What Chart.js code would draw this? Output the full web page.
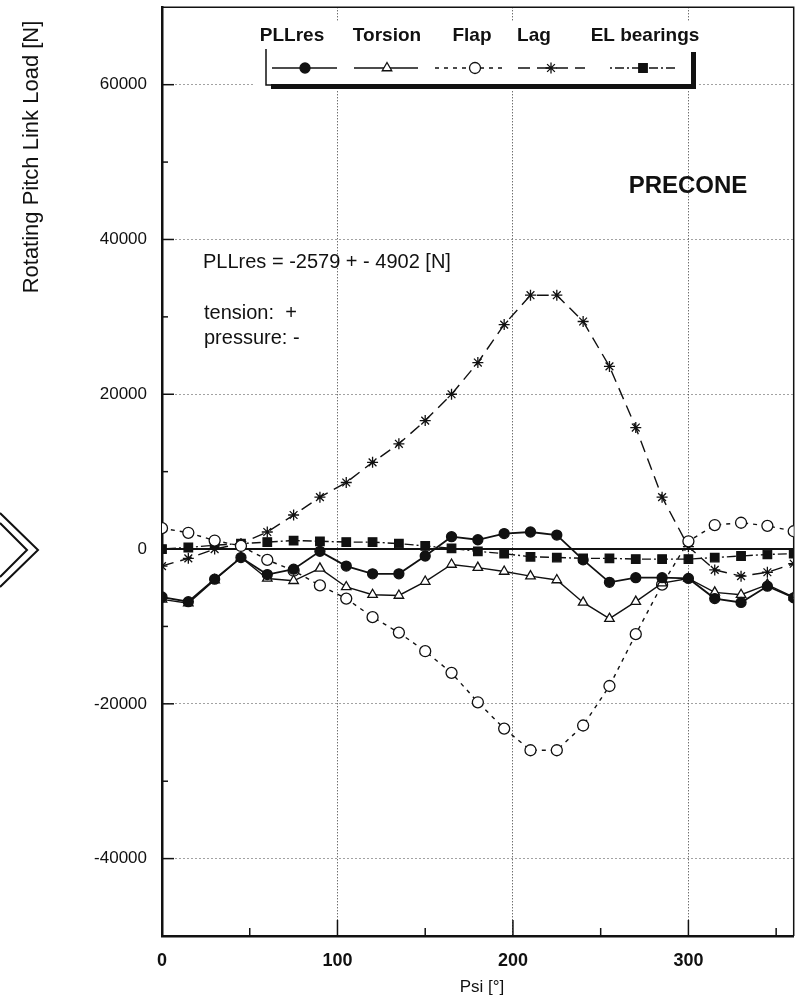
<!DOCTYPE html>
<html>
<head>
<meta charset="utf-8">
<title>Rotating Pitch Link Load</title>
<script src="https://cdn.jsdelivr.net/npm/chart.js@4.4.1/dist/chart.umd.min.js"></script>
<style>
  html, body { margin: 0; padding: 0; background: #fff; }
  #wrap { width: 801px; height: 1000px; }
</style>
</head>
<body>
<div id="wrap"><canvas id="chart" width="801" height="1000"></canvas></div>
<script>
// azimuth positions [deg]
const psi = [0, 15, 30, 45, 60, 75, 90, 105, 120, 135, 150, 165, 180, 195, 210, 225, 240, 255, 270, 285, 300, 315, 330, 345, 360];

// load components [N]
const pllRes = [-6200, -6800, -3900, -1100, -3300, -2600, -300, -2200, -3200, -3200, -900, 1600, 1200, 2000, 2200, 1800, -1400, -4300, -3700, -3700, -3800, -6400, -6900, -4800, -6300];
const torsion = [-6500, -7000, -4000, -1100, -3800, -4100, -2500, -4900, -5900, -6000, -4200, -2000, -2400, -2900, -3500, -4000, -6900, -9000, -6800, -4400, -3800, -5600, -5900, -4600, -6200];
const flap = [2700, 2100, 1100, 400, -1400, -2800, -4700, -6400, -8800, -10800, -13200, -16000, -19800, -23200, -26000, -26000, -22800, -17700, -11000, -4600, 1000, 3100, 3400, 3000, 2300];
const lag = [-2200, -1200, 0, 700, 2200, 4400, 6700, 8600, 11200, 13600, 16600, 20000, 24100, 29000, 32800, 32800, 29400, 23600, 15700, 6700, 300, -2700, -3500, -3000, -1900];
const elBearings = [0, 200, 500, 700, 900, 1100, 1000, 900, 900, 700, 400, 100, -300, -600, -1000, -1100, -1200, -1200, -1300, -1300, -1300, -1100, -900, -700, -600];

const xTicks = [0, 100, 200, 300];
const xMinor = [50, 150, 250, 350];
const yTicks = [-40000, -20000, 0, 20000, 40000, 60000];
const yMinor = [-30000, -10000, 10000, 30000, 50000];

const FONT = "'Liberation Sans', Arial, Helvetica, sans-serif";
const INK = "#111";

const toPoints = (values) => psi.map((p, i) => ({ x: p, y: values[i] }));

const series = (label, values, style) => ({
  label,
  data: toPoints(values),
  borderColor: INK,
  pointBorderColor: INK,
  borderWidth: 1.4,
  pointBorderWidth: 1.3,
  tension: 0,
  ...style
});

const datasets = [
  series("PLLres", pllRes, { borderWidth: 1.8, pointStyle: "circle", pointRadius: 5, pointBackgroundColor: INK }),
  series("Torsion", torsion, { pointStyle: "triangle", pointRadius: 5.5, pointBackgroundColor: "#fff" }),
  series("Flap", flap, { borderDash: [4, 5], pointStyle: "circle", pointRadius: 5.5, pointBackgroundColor: "#fff" }),
  series("Lag", lag, { borderDash: [12, 7], pointStyle: "star", pointRadius: 5.5, pointBackgroundColor: "#fff" }),
  series("EL bearings", elBearings, { borderDash: [2, 3, 9, 3], pointStyle: "rect", pointRadius: 6, pointBackgroundColor: INK })
];

// legend slots: label centre, sample line span, marker position
const legendSlots = [
  { cx: 292, x0: 272, x1: 337, mx: 305 },
  { cx: 387, x0: 354, x1: 418, mx: 387 },
  { cx: 472, x0: 435, x1: 502, mx: 475 },
  { cx: 534, x0: 518, x1: 585, mx: 551 },
  { cx: 645, x0: 610, x1: 677, mx: 643 }
];

const strokeLine = (ctx, x1, y1, x2, y2) => {
  ctx.beginPath();
  ctx.moveTo(x1, y1);
  ctx.lineTo(x2, y2);
  ctx.stroke();
};

// keep the plot frame fixed, no extra room for edge labels
const noEdgePadding = (scale) => {
  scale.paddingTop = 0;
  scale.paddingBottom = 0;
  scale.paddingLeft = 0;
  scale.paddingRight = 0;
};

const decorations = {
  id: "decorations",
  beforeDatasetsDraw(chart) {
    const { ctx, chartArea: a, scales: { x, y } } = chart;
    ctx.save();
    ctx.strokeStyle = INK;

    // top and right frame
    ctx.lineWidth = 1.5;
    ctx.beginPath();
    ctx.moveTo(a.left, a.top);
    ctx.lineTo(a.right, a.top);
    ctx.lineTo(a.right, a.bottom);
    ctx.stroke();

    // zero line
    const y0 = y.getPixelForValue(0);
    ctx.lineWidth = 2;
    strokeLine(ctx, a.left, y0, a.right, y0);

    // inside ticks
    ctx.lineWidth = 1.5;
    xMinor.forEach((v) => {
      const px = x.getPixelForValue(v);
      strokeLine(ctx, px, a.bottom, px, a.bottom - 8);
    });
    xTicks.slice(1).forEach((v) => {
      const px = x.getPixelForValue(v);
      strokeLine(ctx, px, a.bottom, px, a.bottom - 16);
    });
    yMinor.forEach((v) => {
      const py = y.getPixelForValue(v);
      strokeLine(ctx, a.left, py, a.left + 6, py);
    });
    yTicks.forEach((v) => {
      const py = y.getPixelForValue(v);
      strokeLine(ctx, a.left, py, a.left + 12, py);
    });
    ctx.restore();
  },
  afterDraw(chart) {
    const { ctx } = chart;
    ctx.save();

    // legend panel
    ctx.fillStyle = "#fff";
    ctx.fillRect(255, 22, 442, 68);

    ctx.font = `bold 19px ${FONT}`;
    ctx.textAlign = "center";
    ctx.textBaseline = "middle";
    chart.data.datasets.forEach((ds, i) => {
      const slot = legendSlots[i];
      ctx.fillStyle = INK;
      ctx.fillText(ds.label, slot.cx, 36);

      ctx.save();
      ctx.strokeStyle = INK;
      ctx.lineWidth = 1.3;
      ctx.setLineDash(ds.borderDash || []);
      strokeLine(ctx, slot.x0, 68, slot.x1, 68);
      ctx.restore();

      ctx.save();
      ctx.fillStyle = ds.pointBackgroundColor;
      ctx.strokeStyle = INK;
      ctx.lineWidth = ds.pointBorderWidth;
      Chart.helpers.drawPoint(ctx, { pointStyle: ds.pointStyle, radius: ds.pointRadius, rotation: 0, borderWidth: ds.pointBorderWidth }, slot.mx, 68);
      ctx.restore();
    });

    // legend box with drop shadow
    ctx.strokeStyle = INK;
    ctx.fillStyle = INK;
    ctx.lineWidth = 1.5;
    ctx.beginPath();
    ctx.moveTo(266, 49);
    ctx.lineTo(266, 85);
    ctx.lineTo(692, 85);
    ctx.stroke();
    ctx.fillRect(271, 84, 425, 5);
    ctx.fillRect(691, 52, 5, 37);

    // case label
    ctx.textAlign = "center";
    ctx.font = `bold 24px ${FONT}`;
    ctx.fillText("PRECONE", 688, 186);

    // result note
    ctx.textAlign = "left";
    ctx.font = `20px ${FONT}`;
    ctx.fillText("PLLres = -2579 + - 4902 [N]", 203, 262);
    ctx.fillText("tension:  +", 204, 313);
    ctx.fillText("pressure: -", 204, 338);

    // axis titles
    ctx.font = `22px ${FONT}`;
    ctx.textAlign = "center";
    ctx.save();
    ctx.translate(32, 157);
    ctx.rotate(-Math.PI / 2);
    ctx.fillText("Rotating Pitch Link Load [N]", 0, 0);
    ctx.restore();

    ctx.font = `17px ${FONT}`;
    ctx.fillText("Psi [°]", 482, 987);

    // arrow head at the left margin
    ctx.lineWidth = 2;
    ctx.beginPath();
    ctx.moveTo(0, 513);
    ctx.lineTo(38, 550);
    ctx.lineTo(0, 587);
    ctx.moveTo(0, 523);
    ctx.lineTo(27, 550);
    ctx.lineTo(0, 577);
    ctx.stroke();

    ctx.restore();
  }
};

new Chart(document.getElementById("chart"), {
  type: "line",
  data: { datasets },
  options: {
    responsive: false,
    animation: false,
    devicePixelRatio: 1,
    layout: { padding: { top: 7, right: 3, left: 0, bottom: 0 } },
    plugins: {
      legend: { display: false },
      tooltip: { enabled: false }
    },
    scales: {
      x: {
        type: "linear",
        min: 0,
        max: 360,
        afterBuildTicks: (scale) => { scale.ticks = xTicks.map((v) => ({ value: v })); },
        afterFit: (scale) => { scale.height = 64; noEdgePadding(scale); },
        grid: { color: "#333", lineWidth: 1, drawTicks: false },
        border: { display: true, color: INK, width: 2.5, dash: [1, 2] },
        ticks: {
          padding: 14,
          color: INK,
          maxRotation: 0,
          font: { family: FONT, size: 18, weight: "bold" },
          callback: (v) => String(v)
        }
      },
      y: {
        type: "linear",
        min: -50000,
        max: 70000,
        afterBuildTicks: (scale) => { scale.ticks = yTicks.map((v) => ({ value: v })); },
        afterFit: (scale) => { scale.width = 162; noEdgePadding(scale); },
        grid: { color: "#444", lineWidth: 1, drawTicks: false },
        border: { display: true, color: INK, width: 2.5, dash: [1, 3] },
        ticks: {
          padding: 15,
          color: INK,
          font: { family: FONT, size: 17 },
          callback: (v) => String(v)
        }
      }
    }
  },
  plugins: [decorations]
});
</script>
</body>
</html>
